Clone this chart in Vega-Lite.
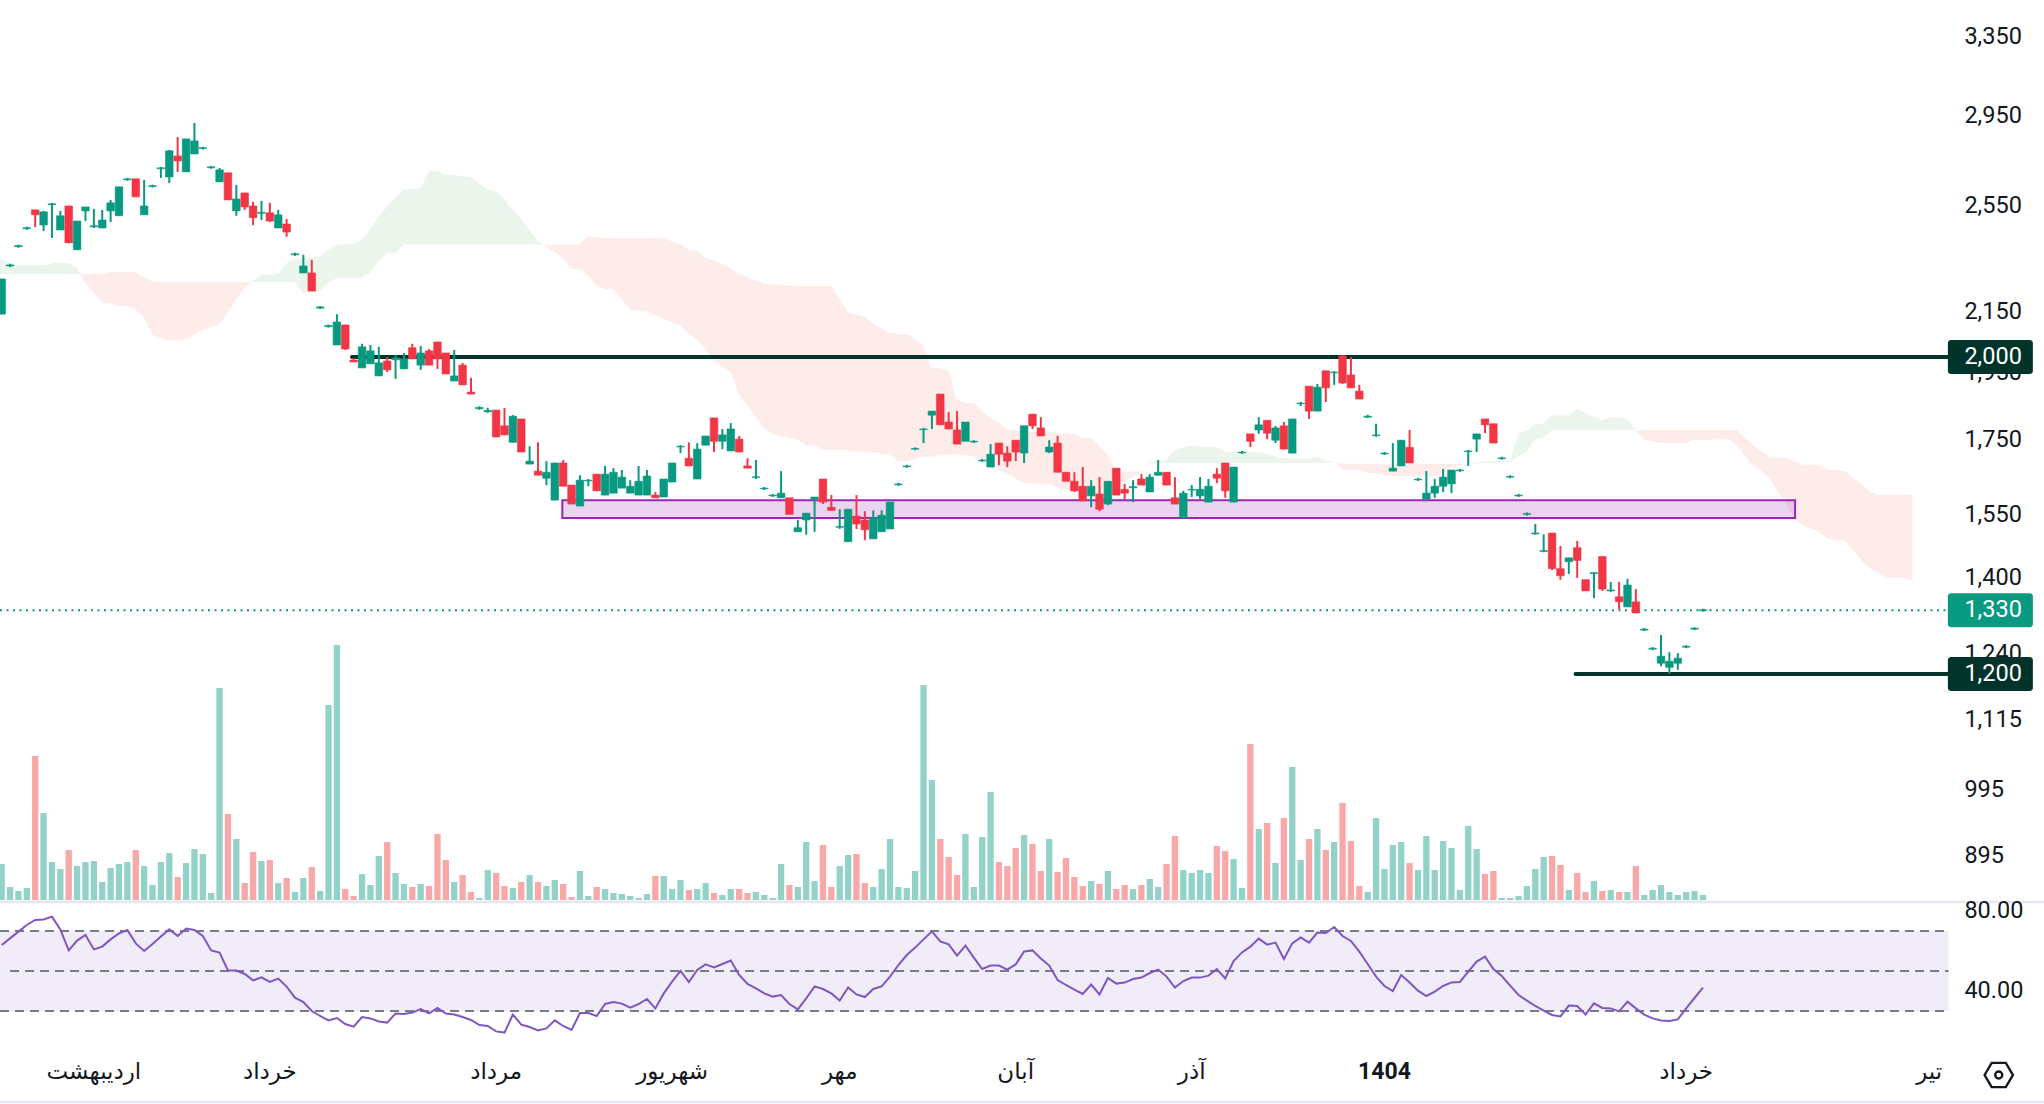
{
"$schema":"https://vega.github.io/schema/vega-lite/v6.json",
"description":"Daily candles with Ichimoku cloud, volume and RSI, price levels at 2000 and 1200.",
"width":2044,"height":1104,"padding":0,"autosize":{"type":"none"},"background":"#ffffff",
"config":{"view":{"stroke":null},"font":"Roboto"},
"datasets":{
"bars":[
{"i":0,"o":2143,"h":2268,"l":2143,"c":2268,"d":"up","vol":108,"rsi":63},
{"i":1,"o":2316,"h":2324,"l":2312,"c":2320,"d":"up","vol":39,"rsi":66.3},
{"i":2,"o":2389,"h":2397,"l":2385,"c":2393,"d":"up","vol":27,"rsi":69.7},
{"i":3,"o":2459,"h":2467,"l":2455,"c":2463,"d":"up","vol":36,"rsi":73},
{"i":4,"o":2535,"h":2535,"l":2466,"c":2515,"d":"down","vol":432,"rsi":75.5},
{"i":5,"o":2474,"h":2531,"l":2450,"c":2527,"d":"up","vol":261,"rsi":75.8},
{"i":6,"o":2556,"h":2563,"l":2423,"c":2560,"d":"up","vol":114,"rsi":77.2},
{"i":7,"o":2454,"h":2531,"l":2454,"c":2511,"d":"up","vol":93,"rsi":70.8},
{"i":8,"o":2551,"h":2551,"l":2404,"c":2404,"d":"down","vol":150,"rsi":60.3},
{"i":9,"o":2377,"h":2490,"l":2377,"c":2490,"d":"up","vol":102,"rsi":65.2},
{"i":10,"o":2531,"h":2547,"l":2490,"c":2547,"d":"up","vol":114,"rsi":68},
{"i":11,"o":2467,"h":2539,"l":2462,"c":2471,"d":"up","vol":117,"rsi":60.8},
{"i":12,"o":2462,"h":2535,"l":2462,"c":2494,"d":"up","vol":54,"rsi":62.2},
{"i":13,"o":2531,"h":2576,"l":2486,"c":2564,"d":"up","vol":96,"rsi":65.8},
{"i":14,"o":2511,"h":2631,"l":2511,"c":2631,"d":"up","vol":108,"rsi":68.8},
{"i":15,"o":2661,"h":2669,"l":2657,"c":2665,"d":"up","vol":114,"rsi":70.5},
{"i":16,"o":2665,"h":2665,"l":2589,"c":2589,"d":"down","vol":150,"rsi":63.8},
{"i":17,"o":2515,"h":2660,"l":2515,"c":2551,"d":"up","vol":102,"rsi":60},
{"i":18,"o":2632,"h":2640,"l":2628,"c":2636,"d":"up","vol":45,"rsi":63.5},
{"i":19,"o":2709,"h":2717,"l":2669,"c":2713,"d":"up","vol":114,"rsi":67.2},
{"i":20,"o":2673,"h":2792,"l":2647,"c":2788,"d":"up","vol":141,"rsi":70.8},
{"i":21,"o":2765,"h":2851,"l":2695,"c":2743,"d":"down","vol":69,"rsi":67.5},
{"i":22,"o":2695,"h":2842,"l":2695,"c":2842,"d":"up","vol":111,"rsi":71.2},
{"i":23,"o":2774,"h":2916,"l":2774,"c":2833,"d":"up","vol":153,"rsi":70.5},
{"i":24,"o":2798,"h":2806,"l":2794,"c":2802,"d":"up","vol":138,"rsi":67.5},
{"i":25,"o":2713,"h":2721,"l":2709,"c":2717,"d":"up","vol":21,"rsi":60.3},
{"i":26,"o":2652,"h":2712,"l":2652,"c":2704,"d":"up","vol":636,"rsi":59.2},
{"i":27,"o":2691,"h":2691,"l":2576,"c":2576,"d":"down","vol":258,"rsi":50.3},
{"i":28,"o":2531,"h":2639,"l":2511,"c":2580,"d":"up","vol":183,"rsi":50.2},
{"i":29,"o":2605,"h":2605,"l":2535,"c":2547,"d":"down","vol":51,"rsi":48.5},
{"i":30,"o":2551,"h":2568,"l":2474,"c":2503,"d":"down","vol":144,"rsi":45.3},
{"i":31,"o":2521,"h":2572,"l":2494,"c":2525,"d":"up","vol":117,"rsi":46.8},
{"i":32,"o":2523,"h":2564,"l":2486,"c":2490,"d":"down","vol":120,"rsi":44.5},
{"i":33,"o":2462,"h":2535,"l":2462,"c":2515,"d":"up","vol":51,"rsi":46.2},
{"i":34,"o":2478,"h":2498,"l":2427,"c":2446,"d":"down","vol":66,"rsi":42.2},
{"i":35,"o":2358,"h":2366,"l":2354,"c":2362,"d":"up","vol":24,"rsi":36.7},
{"i":36,"o":2290,"h":2358,"l":2290,"c":2316,"d":"up","vol":66,"rsi":34.5},
{"i":37,"o":2290,"h":2339,"l":2224,"c":2224,"d":"down","vol":99,"rsi":30},
{"i":38,"o":2164,"h":2171,"l":2161,"c":2168,"d":"up","vol":27,"rsi":27.5},
{"i":39,"o":2100,"h":2107,"l":2097,"c":2104,"d":"up","vol":585,"rsi":25.3},
{"i":40,"o":2039,"h":2143,"l":2039,"c":2116,"d":"up","vol":765,"rsi":26.5},
{"i":41,"o":2106,"h":2106,"l":2023,"c":2026,"d":"down","vol":33,"rsi":23.5},
{"i":42,"o":1990,"h":1997,"l":1984,"c":1984,"d":"down","vol":12,"rsi":22.2},
{"i":43,"o":1965,"h":2043,"l":1965,"c":2033,"d":"up","vol":78,"rsi":27},
{"i":44,"o":1978,"h":2039,"l":1978,"c":2020,"d":"up","vol":45,"rsi":26.3},
{"i":45,"o":1940,"h":2033,"l":1940,"c":1981,"d":"up","vol":132,"rsi":24.8},
{"i":46,"o":1987,"h":2000,"l":1952,"c":1959,"d":"down","vol":174,"rsi":24.2},
{"i":47,"o":1991,"h":2007,"l":1931,"c":1997,"d":"up","vol":81,"rsi":28.7},
{"i":48,"o":1962,"h":2013,"l":1962,"c":1994,"d":"up","vol":48,"rsi":28.5},
{"i":49,"o":2030,"h":2043,"l":1994,"c":1994,"d":"down","vol":39,"rsi":29.2},
{"i":50,"o":1974,"h":2036,"l":1959,"c":2013,"d":"up","vol":48,"rsi":31},
{"i":51,"o":2020,"h":2026,"l":1974,"c":1974,"d":"down","vol":42,"rsi":28.8},
{"i":52,"o":2049,"h":2049,"l":1962,"c":1994,"d":"down","vol":198,"rsi":31.5},
{"i":53,"o":2013,"h":2013,"l":1946,"c":1946,"d":"down","vol":120,"rsi":28.7},
{"i":54,"o":1924,"h":2023,"l":1924,"c":1940,"d":"up","vol":54,"rsi":28.2},
{"i":55,"o":1974,"h":1981,"l":1912,"c":1912,"d":"down","vol":75,"rsi":27},
{"i":56,"o":1890,"h":1934,"l":1884,"c":1884,"d":"down","vol":24,"rsi":25.5},
{"i":57,"o":1840,"h":1847,"l":1837,"c":1844,"d":"up","vol":6,"rsi":23},
{"i":58,"o":1831,"h":1843,"l":1828,"c":1835,"d":"up","vol":90,"rsi":22.5},
{"i":59,"o":1836,"h":1836,"l":1758,"c":1758,"d":"down","vol":81,"rsi":19.8},
{"i":60,"o":1790,"h":1842,"l":1764,"c":1764,"d":"down","vol":42,"rsi":19.2},
{"i":61,"o":1743,"h":1821,"l":1743,"c":1818,"d":"up","vol":36,"rsi":28.2},
{"i":62,"o":1810,"h":1810,"l":1716,"c":1716,"d":"down","vol":54,"rsi":23.2},
{"i":63,"o":1683,"h":1732,"l":1683,"c":1691,"d":"up","vol":75,"rsi":22},
{"i":64,"o":1664,"h":1743,"l":1653,"c":1653,"d":"down","vol":54,"rsi":20.3},
{"i":65,"o":1645,"h":1691,"l":1627,"c":1661,"d":"up","vol":42,"rsi":21.3},
{"i":66,"o":1588,"h":1686,"l":1588,"c":1686,"d":"up","vol":60,"rsi":25.3},
{"i":67,"o":1686,"h":1694,"l":1624,"c":1624,"d":"down","vol":48,"rsi":22.5},
{"i":68,"o":1627,"h":1627,"l":1578,"c":1578,"d":"down","vol":9,"rsi":20.5},
{"i":69,"o":1573,"h":1653,"l":1573,"c":1640,"d":"up","vol":87,"rsi":29},
{"i":70,"o":1638,"h":1643,"l":1624,"c":1640,"d":"up","vol":12,"rsi":29},
{"i":71,"o":1656,"h":1656,"l":1612,"c":1612,"d":"down","vol":39,"rsi":27.5},
{"i":72,"o":1601,"h":1678,"l":1601,"c":1656,"d":"up","vol":33,"rsi":33.5},
{"i":73,"o":1606,"h":1672,"l":1606,"c":1661,"d":"up","vol":21,"rsi":34.5},
{"i":74,"o":1619,"h":1667,"l":1619,"c":1648,"d":"up","vol":18,"rsi":33.7},
{"i":75,"o":1606,"h":1640,"l":1606,"c":1624,"d":"up","vol":12,"rsi":31.7},
{"i":76,"o":1601,"h":1678,"l":1601,"c":1637,"d":"up","vol":6,"rsi":33.5},
{"i":77,"o":1601,"h":1667,"l":1601,"c":1651,"d":"up","vol":18,"rsi":36},
{"i":78,"o":1601,"h":1609,"l":1594,"c":1594,"d":"down","vol":72,"rsi":31.3},
{"i":79,"o":1596,"h":1643,"l":1596,"c":1643,"d":"up","vol":72,"rsi":38.8},
{"i":80,"o":1635,"h":1686,"l":1635,"c":1686,"d":"up","vol":33,"rsi":44.7},
{"i":81,"o":1730,"h":1735,"l":1713,"c":1732,"d":"up","vol":60,"rsi":50},
{"i":82,"o":1699,"h":1743,"l":1678,"c":1678,"d":"down","vol":30,"rsi":44.5},
{"i":83,"o":1643,"h":1741,"l":1643,"c":1724,"d":"up","vol":33,"rsi":50.5},
{"i":84,"o":1735,"h":1761,"l":1735,"c":1761,"d":"up","vol":51,"rsi":53.3},
{"i":85,"o":1813,"h":1813,"l":1716,"c":1746,"d":"down","vol":21,"rsi":51.8},
{"i":86,"o":1746,"h":1781,"l":1724,"c":1764,"d":"up","vol":15,"rsi":53.5},
{"i":87,"o":1719,"h":1798,"l":1719,"c":1781,"d":"up","vol":33,"rsi":55.2},
{"i":88,"o":1752,"h":1761,"l":1716,"c":1716,"d":"down","vol":33,"rsi":48},
{"i":89,"o":1678,"h":1699,"l":1672,"c":1672,"d":"down","vol":21,"rsi":43.5},
{"i":90,"o":1647,"h":1694,"l":1643,"c":1649,"d":"up","vol":24,"rsi":41.3},
{"i":91,"o":1617,"h":1622,"l":1614,"c":1619,"d":"up","vol":15,"rsi":38.8},
{"i":92,"o":1599,"h":1604,"l":1596,"c":1601,"d":"up","vol":6,"rsi":37.2},
{"i":93,"o":1594,"h":1664,"l":1594,"c":1606,"d":"up","vol":108,"rsi":38},
{"i":94,"o":1594,"h":1594,"l":1552,"c":1552,"d":"down","vol":45,"rsi":33.5},
{"i":95,"o":1509,"h":1538,"l":1509,"c":1519,"d":"up","vol":39,"rsi":30.8},
{"i":96,"o":1538,"h":1555,"l":1502,"c":1555,"d":"up","vol":174,"rsi":36.3},
{"i":97,"o":1591,"h":1596,"l":1509,"c":1596,"d":"up","vol":57,"rsi":42.3},
{"i":98,"o":1643,"h":1643,"l":1578,"c":1583,"d":"down","vol":165,"rsi":41},
{"i":99,"o":1570,"h":1601,"l":1562,"c":1562,"d":"down","vol":39,"rsi":38.8},
{"i":100,"o":1520,"h":1565,"l":1516,"c":1522,"d":"up","vol":102,"rsi":35.2},
{"i":101,"o":1485,"h":1565,"l":1485,"c":1565,"d":"up","vol":135,"rsi":41.8},
{"i":102,"o":1548,"h":1601,"l":1516,"c":1528,"d":"down","vol":138,"rsi":38.3},
{"i":103,"o":1538,"h":1560,"l":1489,"c":1514,"d":"down","vol":51,"rsi":37},
{"i":104,"o":1492,"h":1562,"l":1492,"c":1543,"d":"up","vol":39,"rsi":41},
{"i":105,"o":1509,"h":1562,"l":1509,"c":1550,"d":"up","vol":93,"rsi":42.3},
{"i":106,"o":1516,"h":1583,"l":1516,"c":1583,"d":"up","vol":183,"rsi":47.2},
{"i":107,"o":1628,"h":1633,"l":1625,"c":1630,"d":"up","vol":39,"rsi":53},
{"i":108,"o":1676,"h":1681,"l":1673,"c":1678,"d":"up","vol":36,"rsi":58},
{"i":109,"o":1724,"h":1729,"l":1721,"c":1726,"d":"up","vol":87,"rsi":61.7},
{"i":110,"o":1779,"h":1784,"l":1741,"c":1781,"d":"up","vol":645,"rsi":65.8},
{"i":111,"o":1821,"h":1833,"l":1781,"c":1833,"d":"up","vol":360,"rsi":69.8},
{"i":112,"o":1884,"h":1884,"l":1793,"c":1793,"d":"down","vol":183,"rsi":64.8},
{"i":113,"o":1801,"h":1830,"l":1781,"c":1781,"d":"down","vol":129,"rsi":63.3},
{"i":114,"o":1778,"h":1833,"l":1738,"c":1738,"d":"down","vol":75,"rsi":57.7},
{"i":115,"o":1746,"h":1801,"l":1746,"c":1801,"d":"up","vol":198,"rsi":62.7},
{"i":116,"o":1744,"h":1749,"l":1741,"c":1746,"d":"up","vol":39,"rsi":56.7},
{"i":117,"o":1692,"h":1697,"l":1689,"c":1694,"d":"up","vol":189,"rsi":51},
{"i":118,"o":1675,"h":1738,"l":1675,"c":1710,"d":"up","vol":324,"rsi":52.7},
{"i":119,"o":1741,"h":1741,"l":1680,"c":1710,"d":"down","vol":114,"rsi":52.7},
{"i":120,"o":1713,"h":1732,"l":1675,"c":1691,"d":"down","vol":102,"rsi":50.7},
{"i":121,"o":1749,"h":1749,"l":1691,"c":1716,"d":"down","vol":156,"rsi":53.3},
{"i":122,"o":1713,"h":1790,"l":1686,"c":1790,"d":"up","vol":195,"rsi":59.8},
{"i":123,"o":1824,"h":1824,"l":1781,"c":1790,"d":"down","vol":168,"rsi":60.3},
{"i":124,"o":1784,"h":1815,"l":1761,"c":1761,"d":"down","vol":87,"rsi":56.3},
{"i":125,"o":1716,"h":1749,"l":1713,"c":1730,"d":"up","vol":183,"rsi":52.7},
{"i":126,"o":1741,"h":1761,"l":1661,"c":1661,"d":"down","vol":84,"rsi":45.5},
{"i":127,"o":1661,"h":1661,"l":1637,"c":1637,"d":"down","vol":126,"rsi":43},
{"i":128,"o":1637,"h":1661,"l":1609,"c":1612,"d":"down","vol":69,"rsi":40.7},
{"i":129,"o":1624,"h":1675,"l":1586,"c":1586,"d":"down","vol":42,"rsi":38.5},
{"i":130,"o":1599,"h":1640,"l":1570,"c":1624,"d":"up","vol":57,"rsi":43.2},
{"i":131,"o":1604,"h":1648,"l":1560,"c":1565,"d":"down","vol":48,"rsi":38.3},
{"i":132,"o":1578,"h":1637,"l":1575,"c":1637,"d":"up","vol":87,"rsi":46.5},
{"i":133,"o":1672,"h":1672,"l":1601,"c":1601,"d":"down","vol":33,"rsi":43.7},
{"i":134,"o":1616,"h":1630,"l":1591,"c":1606,"d":"down","vol":45,"rsi":44.2},
{"i":135,"o":1620,"h":1640,"l":1583,"c":1623,"d":"up","vol":33,"rsi":46},
{"i":136,"o":1643,"h":1656,"l":1627,"c":1627,"d":"down","vol":45,"rsi":46.7},
{"i":137,"o":1609,"h":1656,"l":1609,"c":1648,"d":"up","vol":63,"rsi":49},
{"i":138,"o":1653,"h":1694,"l":1653,"c":1661,"d":"up","vol":39,"rsi":50.7},
{"i":139,"o":1661,"h":1661,"l":1627,"c":1627,"d":"down","vol":108,"rsi":47.2},
{"i":140,"o":1594,"h":1648,"l":1578,"c":1578,"d":"down","vol":192,"rsi":41.7},
{"i":141,"o":1543,"h":1612,"l":1543,"c":1606,"d":"up","vol":90,"rsi":45},
{"i":142,"o":1614,"h":1627,"l":1596,"c":1616,"d":"up","vol":81,"rsi":46.7},
{"i":143,"o":1599,"h":1648,"l":1591,"c":1616,"d":"up","vol":90,"rsi":46.7},
{"i":144,"o":1583,"h":1643,"l":1583,"c":1624,"d":"up","vol":81,"rsi":47.7},
{"i":145,"o":1656,"h":1672,"l":1632,"c":1645,"d":"down","vol":162,"rsi":51},
{"i":146,"o":1686,"h":1686,"l":1594,"c":1612,"d":"down","vol":147,"rsi":46.3},
{"i":147,"o":1583,"h":1675,"l":1583,"c":1675,"d":"up","vol":123,"rsi":55},
{"i":148,"o":1714,"h":1719,"l":1711,"c":1716,"d":"up","vol":36,"rsi":59.3},
{"i":149,"o":1767,"h":1767,"l":1730,"c":1746,"d":"down","vol":468,"rsi":62.2},
{"i":150,"o":1778,"h":1815,"l":1767,"c":1793,"d":"up","vol":213,"rsi":66.2},
{"i":151,"o":1806,"h":1806,"l":1752,"c":1769,"d":"down","vol":231,"rsi":63.2},
{"i":152,"o":1749,"h":1790,"l":1741,"c":1784,"d":"up","vol":111,"rsi":64.2},
{"i":153,"o":1790,"h":1801,"l":1724,"c":1724,"d":"down","vol":246,"rsi":56},
{"i":154,"o":1713,"h":1810,"l":1713,"c":1810,"d":"up","vol":399,"rsi":63.8},
{"i":155,"o":1855,"h":1860,"l":1848,"c":1857,"d":"up","vol":120,"rsi":66.8},
{"i":156,"o":1908,"h":1908,"l":1810,"c":1833,"d":"down","vol":183,"rsi":64.2},
{"i":157,"o":1833,"h":1915,"l":1833,"c":1905,"d":"up","vol":213,"rsi":69.2},
{"i":158,"o":1956,"h":1956,"l":1860,"c":1903,"d":"down","vol":150,"rsi":69},
{"i":159,"o":1950,"h":1955,"l":1912,"c":1952,"d":"up","vol":174,"rsi":72},
{"i":160,"o":2004,"h":2004,"l":1915,"c":1918,"d":"down","vol":291,"rsi":67.5},
{"i":161,"o":1943,"h":2000,"l":1903,"c":1903,"d":"down","vol":177,"rsi":65},
{"i":162,"o":1893,"h":1912,"l":1869,"c":1869,"d":"down","vol":42,"rsi":59.7},
{"i":163,"o":1815,"h":1822,"l":1813,"c":1818,"d":"up","vol":24,"rsi":53.5},
{"i":164,"o":1762,"h":1796,"l":1759,"c":1764,"d":"up","vol":246,"rsi":47.2},
{"i":165,"o":1711,"h":1716,"l":1708,"c":1713,"d":"up","vol":93,"rsi":42.5},
{"i":166,"o":1664,"h":1741,"l":1664,"c":1672,"d":"up","vol":165,"rsi":40},
{"i":167,"o":1678,"h":1749,"l":1678,"c":1749,"d":"up","vol":174,"rsi":48},
{"i":168,"o":1729,"h":1778,"l":1686,"c":1686,"d":"down","vol":111,"rsi":44.2},
{"i":169,"o":1641,"h":1646,"l":1638,"c":1643,"d":"up","vol":90,"rsi":40.2},
{"i":170,"o":1591,"h":1664,"l":1591,"c":1606,"d":"up","vol":192,"rsi":37.5},
{"i":171,"o":1606,"h":1643,"l":1594,"c":1624,"d":"up","vol":90,"rsi":39.7},
{"i":172,"o":1624,"h":1670,"l":1609,"c":1648,"d":"up","vol":177,"rsi":42.5},
{"i":173,"o":1630,"h":1667,"l":1606,"c":1667,"d":"up","vol":156,"rsi":44.3},
{"i":174,"o":1665,"h":1670,"l":1662,"c":1667,"d":"up","vol":30,"rsi":44.5},
{"i":175,"o":1717,"h":1722,"l":1678,"c":1719,"d":"up","vol":222,"rsi":49.7},
{"i":176,"o":1752,"h":1767,"l":1716,"c":1767,"d":"up","vol":153,"rsi":54.7},
{"i":177,"o":1810,"h":1810,"l":1769,"c":1793,"d":"down","vol":78,"rsi":57.2},
{"i":178,"o":1796,"h":1796,"l":1741,"c":1741,"d":"down","vol":87,"rsi":51},
{"i":179,"o":1698,"h":1703,"l":1695,"c":1700,"d":"up","vol":6,"rsi":47.5},
{"i":180,"o":1648,"h":1653,"l":1645,"c":1650,"d":"up","vol":6,"rsi":42.7},
{"i":181,"o":1599,"h":1604,"l":1596,"c":1601,"d":"up","vol":12,"rsi":38},
{"i":182,"o":1552,"h":1557,"l":1549,"c":1554,"d":"up","vol":42,"rsi":35.2},
{"i":183,"o":1504,"h":1528,"l":1502,"c":1506,"d":"up","vol":93,"rsi":32.5},
{"i":184,"o":1462,"h":1503,"l":1460,"c":1464,"d":"up","vol":129,"rsi":30.2},
{"i":185,"o":1506,"h":1506,"l":1419,"c":1422,"d":"down","vol":132,"rsi":28},
{"i":186,"o":1422,"h":1475,"l":1397,"c":1406,"d":"down","vol":105,"rsi":27.3},
{"i":187,"o":1438,"h":1447,"l":1410,"c":1447,"d":"up","vol":30,"rsi":32.7},
{"i":188,"o":1471,"h":1487,"l":1401,"c":1441,"d":"down","vol":81,"rsi":32.5},
{"i":189,"o":1397,"h":1397,"l":1372,"c":1372,"d":"down","vol":24,"rsi":28.3},
{"i":190,"o":1411,"h":1413,"l":1356,"c":1413,"d":"up","vol":57,"rsi":33.8},
{"i":191,"o":1450,"h":1450,"l":1372,"c":1376,"d":"down","vol":27,"rsi":31.5},
{"i":192,"o":1372,"h":1392,"l":1370,"c":1374,"d":"up","vol":30,"rsi":31.3},
{"i":193,"o":1359,"h":1392,"l":1332,"c":1348,"d":"down","vol":24,"rsi":29.8},
{"i":194,"o":1337,"h":1399,"l":1337,"c":1385,"d":"up","vol":24,"rsi":34.7},
{"i":195,"o":1348,"h":1376,"l":1324,"c":1324,"d":"down","vol":102,"rsi":31.3},
{"i":196,"o":1288,"h":1292,"l":1286,"c":1290,"d":"up","vol":15,"rsi":28.2},
{"i":197,"o":1249,"h":1253,"l":1247,"c":1251,"d":"up","vol":30,"rsi":26.3},
{"i":198,"o":1221,"h":1278,"l":1215,"c":1235,"d":"up","vol":45,"rsi":25.3},
{"i":199,"o":1213,"h":1243,"l":1200,"c":1225,"d":"up","vol":24,"rsi":25},
{"i":200,"o":1221,"h":1241,"l":1208,"c":1231,"d":"up","vol":15,"rsi":25.8},
{"i":201,"o":1253,"h":1257,"l":1251,"c":1255,"d":"up","vol":24,"rsi":31.3},
{"i":202,"o":1290,"h":1294,"l":1288,"c":1292,"d":"up","vol":27,"rsi":36.5},
{"i":203,"o":1329,"h":1333,"l":1327,"c":1331,"d":"up","vol":15,"rsi":41.7}
],
"cloud":[
{"i":-0.2,"a":2343,"b":2286,"kind":"up","seg":"g1"},{"i":1.8,"a":2319,"b":2286,"kind":"up","seg":"g1"},{"i":5,"a":2319,"b":2286,"kind":"up","seg":"g1"},{"i":6.2,"a":2327,"b":2286,"kind":"up","seg":"g1"},{"i":8,"a":2327,"b":2286,"kind":"up","seg":"g1"},{"i":9,"a":2307,"b":2286,"kind":"up","seg":"g1"},{"i":9.35,"a":2286,"b":2286,"kind":"up","seg":"g1"},
{"i":9.35,"a":2286,"b":2286,"kind":"down","seg":"r1"},{"i":10.1,"a":2286,"b":2250,"kind":"down","seg":"r1"},{"i":11,"a":2286,"b":2221,"kind":"down","seg":"r1"},{"i":12,"a":2286,"b":2183,"kind":"down","seg":"r1"},{"i":13,"a":2293,"b":2180,"kind":"down","seg":"r1"},{"i":14.1,"a":2293,"b":2171,"kind":"down","seg":"r1"},{"i":15,"a":2293,"b":2171,"kind":"down","seg":"r1"},{"i":16,"a":2293,"b":2158,"kind":"down","seg":"r1"},{"i":17,"a":2276,"b":2130,"kind":"down","seg":"r1"},{"i":18,"a":2257,"b":2072,"kind":"down","seg":"r1"},{"i":20,"a":2257,"b":2053,"kind":"down","seg":"r1"},{"i":22,"a":2257,"b":2058,"kind":"down","seg":"r1"},{"i":23.7,"a":2257,"b":2086,"kind":"down","seg":"r1"},{"i":26,"a":2257,"b":2109,"kind":"down","seg":"r1"},{"i":29,"a":2257,"b":2235,"kind":"down","seg":"r1"},{"i":29.8,"a":2257,"b":2257,"kind":"down","seg":"r1"},
{"i":29.8,"a":2257,"b":2257,"kind":"up","seg":"g2"},{"i":31,"a":2282,"b":2257,"kind":"up","seg":"g2"},{"i":33,"a":2286,"b":2257,"kind":"up","seg":"g2"},{"i":34,"a":2327,"b":2257,"kind":"up","seg":"g2"},{"i":35,"a":2343,"b":2257,"kind":"up","seg":"g2"},{"i":36,"a":2346,"b":2217,"kind":"up","seg":"g2"},{"i":38,"a":2350,"b":2224,"kind":"up","seg":"g2"},{"i":39,"a":2377,"b":2253,"kind":"up","seg":"g2"},{"i":40,"a":2397,"b":2272,"kind":"up","seg":"g2"},{"i":42,"a":2398,"b":2272,"kind":"up","seg":"g2"},{"i":43,"a":2416,"b":2272,"kind":"up","seg":"g2"},{"i":44,"a":2461,"b":2293,"kind":"up","seg":"g2"},{"i":45,"a":2509,"b":2336,"kind":"up","seg":"g2"},{"i":46,"a":2549,"b":2365,"kind":"up","seg":"g2"},{"i":47,"a":2587,"b":2365,"kind":"up","seg":"g2"},{"i":48,"a":2621,"b":2397,"kind":"up","seg":"g2"},{"i":50,"a":2625,"b":2397,"kind":"up","seg":"g2"},{"i":51,"a":2698,"b":2397,"kind":"up","seg":"g2"},{"i":52,"a":2698,"b":2397,"kind":"up","seg":"g2"},{"i":53,"a":2681,"b":2397,"kind":"up","seg":"g2"},{"i":54,"a":2681,"b":2397,"kind":"up","seg":"g2"},{"i":56,"a":2672,"b":2397,"kind":"up","seg":"g2"},{"i":58,"a":2621,"b":2397,"kind":"up","seg":"g2"},{"i":59,"a":2610,"b":2397,"kind":"up","seg":"g2"},{"i":60,"a":2580,"b":2397,"kind":"up","seg":"g2"},{"i":61,"a":2531,"b":2397,"kind":"up","seg":"g2"},{"i":62,"a":2498,"b":2397,"kind":"up","seg":"g2"},{"i":63,"a":2455,"b":2397,"kind":"up","seg":"g2"},{"i":64,"a":2410,"b":2397,"kind":"up","seg":"g2"},{"i":64.7,"a":2396,"b":2396,"kind":"up","seg":"g2"},
{"i":64.7,"a":2396,"b":2396,"kind":"down","seg":"r2"},{"i":67,"a":2396,"b":2346,"kind":"down","seg":"r2"},{"i":68,"a":2396,"b":2305,"kind":"down","seg":"r2"},{"i":68.9,"a":2396,"b":2305,"kind":"down","seg":"r2"},{"i":70,"a":2431,"b":2279,"kind":"down","seg":"r2"},{"i":71,"a":2426,"b":2242,"kind":"down","seg":"r2"},{"i":72,"a":2422,"b":2231,"kind":"down","seg":"r2"},{"i":73,"a":2422,"b":2231,"kind":"down","seg":"r2"},{"i":75,"a":2422,"b":2158,"kind":"down","seg":"r2"},{"i":77,"a":2422,"b":2151,"kind":"down","seg":"r2"},{"i":79,"a":2421,"b":2127,"kind":"down","seg":"r2"},{"i":81,"a":2398,"b":2102,"kind":"down","seg":"r2"},{"i":82,"a":2375,"b":2076,"kind":"down","seg":"r2"},{"i":83,"a":2372,"b":2057,"kind":"down","seg":"r2"},{"i":84,"a":2346,"b":2024,"kind":"down","seg":"r2"},{"i":85,"a":2338,"b":1987,"kind":"down","seg":"r2"},{"i":87,"a":2306,"b":1953,"kind":"down","seg":"r2"},{"i":88,"a":2288,"b":1880,"kind":"down","seg":"r2"},{"i":89,"a":2273,"b":1850,"kind":"down","seg":"r2"},{"i":91,"a":2251,"b":1782,"kind":"down","seg":"r2"},{"i":92,"a":2247,"b":1766,"kind":"down","seg":"r2"},{"i":95,"a":2243,"b":1751,"kind":"down","seg":"r2"},{"i":96,"a":2243,"b":1734,"kind":"down","seg":"r2"},{"i":97,"a":2243,"b":1734,"kind":"down","seg":"r2"},{"i":98,"a":2243,"b":1722,"kind":"down","seg":"r2"},{"i":99,"a":2243,"b":1722,"kind":"down","seg":"r2"},{"i":101,"a":2148,"b":1720,"kind":"down","seg":"r2"},{"i":103,"a":2135,"b":1716,"kind":"down","seg":"r2"},{"i":104,"a":2109,"b":1715,"kind":"down","seg":"r2"},{"i":106,"a":2078,"b":1708,"kind":"down","seg":"r2"},{"i":107,"a":2077,"b":1690,"kind":"down","seg":"r2"},{"i":108.2,"a":2074,"b":1692,"kind":"down","seg":"r2"},{"i":109.9,"a":2037,"b":1704,"kind":"down","seg":"r2"},{"i":110.9,"a":1968,"b":1703,"kind":"down","seg":"r2"},{"i":113,"a":1956,"b":1709,"kind":"down","seg":"r2"},{"i":113.9,"a":1870,"b":1709,"kind":"down","seg":"r2"},{"i":115,"a":1857,"b":1708,"kind":"down","seg":"r2"},{"i":116,"a":1857,"b":1704,"kind":"down","seg":"r2"},{"i":118,"a":1811,"b":1690,"kind":"down","seg":"r2"},{"i":119,"a":1800,"b":1667,"kind":"down","seg":"r2"},{"i":120,"a":1780,"b":1658,"kind":"down","seg":"r2"},{"i":121.5,"a":1775,"b":1638,"kind":"down","seg":"r2"},{"i":122,"a":1773,"b":1632,"kind":"down","seg":"r2"},{"i":125,"a":1774,"b":1630,"kind":"down","seg":"r2"},{"i":126.3,"a":1767,"b":1619,"kind":"down","seg":"r2"},{"i":128,"a":1767,"b":1609,"kind":"down","seg":"r2"},{"i":129,"a":1755,"b":1605,"kind":"down","seg":"r2"},{"i":130,"a":1755,"b":1598,"kind":"down","seg":"r2"},{"i":132,"a":1708,"b":1600,"kind":"down","seg":"r2"},{"i":133,"a":1665,"b":1617,"kind":"down","seg":"r2"},{"i":134,"a":1663,"b":1635,"kind":"down","seg":"r2"},{"i":135,"a":1663,"b":1649,"kind":"down","seg":"r2"},{"i":136.2,"a":1663,"b":1663,"kind":"down","seg":"r2"},
{"i":136.4,"a":1668,"b":1668,"kind":"up","seg":"g3"},{"i":137,"a":1690,"b":1686,"kind":"up","seg":"g3"},{"i":138.8,"a":1693,"b":1686,"kind":"up","seg":"g3"},{"i":140,"a":1720,"b":1686,"kind":"up","seg":"g3"},{"i":141.8,"a":1734,"b":1686,"kind":"up","seg":"g3"},{"i":143,"a":1730,"b":1686,"kind":"up","seg":"g3"},{"i":145,"a":1730,"b":1686,"kind":"up","seg":"g3"},{"i":146,"a":1717,"b":1686,"kind":"up","seg":"g3"},{"i":150.2,"a":1715,"b":1686,"kind":"up","seg":"g3"},{"i":152,"a":1704,"b":1686,"kind":"up","seg":"g3"},{"i":154,"a":1697,"b":1686,"kind":"up","seg":"g3"},{"i":156,"a":1697,"b":1686,"kind":"up","seg":"g3"},{"i":157,"a":1704,"b":1686,"kind":"up","seg":"g3"},{"i":158,"a":1692,"b":1686,"kind":"up","seg":"g3"},{"i":159.2,"a":1688,"b":1688,"kind":"up","seg":"g3"},
{"i":159.2,"a":1688,"b":1688,"kind":"down","seg":"r3"},{"i":160,"a":1684,"b":1668,"kind":"down","seg":"r3"},{"i":162,"a":1684,"b":1668,"kind":"down","seg":"r3"},{"i":163,"a":1684,"b":1660,"kind":"down","seg":"r3"},{"i":166,"a":1684,"b":1651,"kind":"down","seg":"r3"},{"i":171,"a":1684,"b":1651,"kind":"down","seg":"r3"},{"i":172.3,"a":1684,"b":1665,"kind":"down","seg":"r3"},{"i":174,"a":1684,"b":1681,"kind":"down","seg":"r3"},{"i":175,"a":1684,"b":1684,"kind":"down","seg":"r3"},
{"i":175,"a":1684,"b":1684,"kind":"up","seg":"g4"},{"i":176.4,"a":1690,"b":1685,"kind":"up","seg":"g4"},{"i":180,"a":1692,"b":1688,"kind":"up","seg":"g4"},{"i":181,"a":1770,"b":1705,"kind":"up","seg":"g4"},{"i":182,"a":1776,"b":1717,"kind":"up","seg":"g4"},{"i":183,"a":1794,"b":1750,"kind":"up","seg":"g4"},{"i":184,"a":1797,"b":1757,"kind":"up","seg":"g4"},{"i":185,"a":1820,"b":1778,"kind":"up","seg":"g4"},{"i":187,"a":1820,"b":1778,"kind":"up","seg":"g4"},{"i":188,"a":1841,"b":1778,"kind":"up","seg":"g4"},{"i":189.2,"a":1824,"b":1778,"kind":"up","seg":"g4"},{"i":191,"a":1806,"b":1778,"kind":"up","seg":"g4"},{"i":192,"a":1815,"b":1778,"kind":"up","seg":"g4"},{"i":193,"a":1815,"b":1778,"kind":"up","seg":"g4"},{"i":194,"a":1809,"b":1778,"kind":"up","seg":"g4"},{"i":195,"a":1778,"b":1778,"kind":"up","seg":"g4"},
{"i":195,"a":1778,"b":1778,"kind":"down","seg":"r4"},{"i":196,"a":1778,"b":1750,"kind":"down","seg":"r4"},{"i":198,"a":1778,"b":1741,"kind":"down","seg":"r4"},{"i":201,"a":1778,"b":1741,"kind":"down","seg":"r4"},{"i":202,"a":1778,"b":1750,"kind":"down","seg":"r4"},{"i":204.3,"a":1778,"b":1750,"kind":"down","seg":"r4"},{"i":206,"a":1778,"b":1753,"kind":"down","seg":"r4"},{"i":207,"a":1778,"b":1735,"kind":"down","seg":"r4"},{"i":208.8,"a":1740,"b":1681,"kind":"down","seg":"r4"},{"i":210,"a":1717,"b":1665,"kind":"down","seg":"r4"},{"i":211,"a":1701,"b":1643,"kind":"down","seg":"r4"},{"i":213,"a":1701,"b":1576,"kind":"down","seg":"r4"},{"i":214,"a":1689,"b":1539,"kind":"down","seg":"r4"},{"i":215,"a":1681,"b":1523,"kind":"down","seg":"r4"},{"i":216.8,"a":1681,"b":1509,"kind":"down","seg":"r4"},{"i":218,"a":1669,"b":1491,"kind":"down","seg":"r4"},{"i":220,"a":1664,"b":1487,"kind":"down","seg":"r4"},{"i":222,"a":1628,"b":1439,"kind":"down","seg":"r4"},{"i":223,"a":1610,"b":1422,"kind":"down","seg":"r4"},{"i":224,"a":1602,"b":1412,"kind":"down","seg":"r4"},{"i":225,"a":1602,"b":1402,"kind":"down","seg":"r4"},{"i":227,"a":1602,"b":1402,"kind":"down","seg":"r4"},{"i":228,"a":1602,"b":1393,"kind":"down","seg":"r4"}
]
},
"encoding":{"x":{"field":"i","type":"quantitative","axis":null,"scale":{"domain":[-0.2,243.7],"nice":false,"zero":false,"padding":0}}},
"layer":[
{"layer":[
{"data":{"name":"cloud"},"mark":{"type":"area","interpolate":"linear"},
"encoding":{
"y":{"field":"a","type":"quantitative","axis":null,"scale":{"type":"log","domain":[600.2,3555],"nice":false}},
"y2":{"field":"b"},
"detail":{"field":"seg"},
"color":{"field":"kind","type":"nominal","legend":null,"scale":{"domain":["up","down"],"range":["#ebf5ec","#feecea"]}}}},
{"data":{"values":[{"i":234.2,"price":3350,"label":"3,350"},{"i":234.2,"price":2950,"label":"2,950"},{"i":234.2,"price":2550,"label":"2,550"},{"i":234.2,"price":2150,"label":"2,150"},{"i":234.2,"price":1950,"label":"1,950"},{"i":234.2,"price":1750,"label":"1,750"},{"i":234.2,"price":1550,"label":"1,550"},{"i":234.2,"price":1400,"label":"1,400"},{"i":234.2,"price":1240,"label":"1,240"},{"i":234.2,"price":1115,"label":"1,115"},{"i":234.2,"price":995,"label":"995"},{"i":234.2,"price":895,"label":"895"}]},
"mark":{"type":"text","align":"left","baseline":"middle","fontSize":23.5,"font":"Roboto","color":"#131722"},
"encoding":{"y":{"field":"price","type":"quantitative","axis":null,"scale":{"type":"log","domain":[600.2,3555],"nice":false}},"text":{"field":"label"}}},
{"data":{"values":[{"start":66.9,"end":214,"top":1588,"bottom":1543}]},"mark":{"type":"rect","fill":"#9c27b0","fillOpacity":0.2,"stroke":"#9c27b0","strokeWidth":2},
"encoding":{"x":{"field":"start","type":"quantitative"},"x2":{"field":"end"},"y":{"field":"top","type":"quantitative","axis":null,"scale":{"type":"log","domain":[600.2,3555],"nice":false}},"y2":{"field":"bottom"}}},
{"data":{"values":[{"level":2000,"start":41.8,"end":232.3},{"level":1200,"start":187.8,"end":232.3}]},"mark":{"type":"rule","stroke":"#00332a","strokeWidth":4,"strokeCap":"round"},
"encoding":{"x":{"field":"start","type":"quantitative"},"x2":{"field":"end"},"y":{"field":"level","type":"quantitative","axis":null,"scale":{"type":"log","domain":[600.2,3555],"nice":false}}}},
{"data":{"values":[{"level":1330,"start":-0.2,"end":232.3}]},"mark":{"type":"rule","stroke":"#089981","strokeWidth":2,"strokeDash":[2,4.5]},
"encoding":{"x":{"field":"start","type":"quantitative"},"x2":{"field":"end"},"y":{"field":"level","type":"quantitative","axis":null,"scale":{"type":"log","domain":[600.2,3555],"nice":false}}}},
{"data":{"name":"bars"},"mark":{"type":"rule","strokeWidth":2},
"encoding":{"y":{"field":"l","type":"quantitative","axis":null,"scale":{"type":"log","domain":[600.2,3555],"nice":false}},"y2":{"field":"h"},
"color":{"condition":{"test":"datum.d=='up'","value":"#089981"},"value":"#f23645"}}},
{"data":{"name":"bars"},"mark":{"type":"bar","size":7.6,"strokeWidth":0.6},
"encoding":{"y":{"field":"o","type":"quantitative","axis":null,"scale":{"type":"log","domain":[600.2,3555],"nice":false}},"y2":{"field":"c"},
"color":{"condition":{"test":"datum.d=='up'","value":"#089981"},"value":"#f23645"},
"stroke":{"condition":{"test":"datum.d=='up'","value":"#089981"},"value":"#f23645"}}},
{"data":{"values":[{"i":237.3,"price":2000,"kind":"level"},{"i":237.3,"price":1330,"kind":"last"},{"i":237.3,"price":1200,"kind":"level"}]},
"mark":{"type":"tick","orient":"horizontal","size":85,"thickness":34,"cornerRadius":3,"opacity":1},
"encoding":{"y":{"field":"price","type":"quantitative","axis":null,"scale":{"type":"log","domain":[600.2,3555],"nice":false}},
"color":{"condition":{"test":"datum.kind=='last'","value":"#089981"},"value":"#00332a"}}},
{"data":{"values":[{"i":234.2,"price":2000,"label":"2,000"},{"i":234.2,"price":1330,"label":"1,330"},{"i":234.2,"price":1200,"label":"1,200"}]},
"mark":{"type":"text","align":"left","baseline":"middle","fontSize":23.5,"font":"Roboto","color":"#ffffff"},
"encoding":{"y":{"field":"price","type":"quantitative","axis":null,"scale":{"type":"log","domain":[600.2,3555],"nice":false}},"text":{"field":"label"}}}
]},
{"data":{"name":"bars"},"mark":{"type":"bar","size":6.3},
"encoding":{"y":{"field":"vol","type":"quantitative","axis":null,"scale":{"domain":[-612,2700],"nice":false,"zero":false}},"y2":{"datum":0},
"color":{"condition":{"test":"datum.d=='up'","value":"#93d2c9"},"value":"#f8a8a9"}}},
{"layer":[
{"data":{"values":[{"start":-0.2,"end":232.3,"top":70,"bottom":30}]},"mark":{"type":"rect","fill":"#f0ecf8"},
"encoding":{"x":{"field":"start","type":"quantitative"},"x2":{"field":"end"},
"y":{"field":"top","type":"quantitative","axis":null,"scale":{"domain":[-16.5,535.5],"nice":false,"zero":false}},
"y2":{"field":"bottom"}}},
{"data":{"values":[{"r":70,"start":-0.2,"end":232.3},{"r":50,"start":1,"end":232.3},{"r":30,"start":-0.2,"end":232.3}]},"mark":{"type":"rule","stroke":"#787b86","strokeWidth":2,"strokeDash":[9,6]},
"encoding":{"x":{"field":"start","type":"quantitative"},"x2":{"field":"end"},"y":{"field":"r","type":"quantitative","axis":null,"scale":{"domain":[-16.5,535.5],"nice":false,"zero":false}}}},
{"data":{"name":"bars"},"mark":{"type":"line","stroke":"#7e57c2","strokeWidth":2,"interpolate":"linear"},
"encoding":{"y":{"field":"rsi","type":"quantitative","axis":null,"scale":{"domain":[-16.5,535.5],"nice":false,"zero":false}}}},
{"data":{"values":[{"r":84.5,"i":-0.2,"end":243.7},{"r":-15.5,"i":-0.2,"end":243.7}]},"mark":{"type":"rule","stroke":"#e4e7f0","strokeWidth":2.5},
"encoding":{"x2":{"field":"end"},"y":{"field":"r","type":"quantitative","axis":null,"scale":{"domain":[-16.5,535.5],"nice":false,"zero":false}}}},
{"data":{"values":[{"i":234.2,"r":80,"label":"80.00"},{"i":234.2,"r":40,"label":"40.00"}]},
"mark":{"type":"text","align":"left","baseline":"middle","fontSize":23.5,"font":"Roboto","color":"#131722"},
"encoding":{"y":{"field":"r","type":"quantitative","axis":null,"scale":{"domain":[-16.5,535.5],"nice":false,"zero":false}},"text":{"field":"label"}}},
{"data":{"values":[{"i":11,"label":"اردیبهشت"},{"i":32,"label":"خرداد"},{"i":59,"label":"مرداد"},{"i":80,"label":"شهریور"},{"i":100,"label":"مهر"},{"i":121,"label":"آبان"},{"i":142,"label":"آذر"},{"i":201,"label":"خرداد"},{"i":230,"label":"تیر"}]},
"mark":{"type":"text","align":"center","baseline":"middle","fontSize":23,"font":"Roboto, DejaVu Sans","color":"#131722"},
"encoding":{"y":{"datum":-0.5,"axis":null,"scale":{"domain":[-16.5,535.5],"nice":false,"zero":false}},"text":{"field":"label"}}},
{"data":{"values":[{"i":165,"label":"1404"}]},
"mark":{"type":"text","align":"center","baseline":"middle","fontSize":23,"fontWeight":"bold","font":"Roboto","color":"#131722"},
"encoding":{"y":{"datum":-0.5,"axis":null,"scale":{"domain":[-16.5,535.5],"nice":false,"zero":false}},"text":{"field":"label"}}},
{"data":{"values":[{"i":238.3}]},"mark":{"type":"point","shape":"M-1,0L-.5,-.86L.5,-.86L1,0L.5,.86L-.5,.86Z","size":800,"stroke":"#131722","strokeWidth":2.4,"filled":false,"opacity":1},
"encoding":{"y":{"datum":-2,"axis":null,"scale":{"domain":[-16.5,535.5],"nice":false,"zero":false}}}},
{"data":{"values":[{"i":238.3}]},"mark":{"type":"point","shape":"circle","size":50,"stroke":"#131722","strokeWidth":2.4,"filled":false,"opacity":1},
"encoding":{"y":{"datum":-2,"axis":null,"scale":{"domain":[-16.5,535.5],"nice":false,"zero":false}}}}
]}
],
"resolve":{"scale":{"y":"independent"},"axis":{"y":"independent"}}
}
